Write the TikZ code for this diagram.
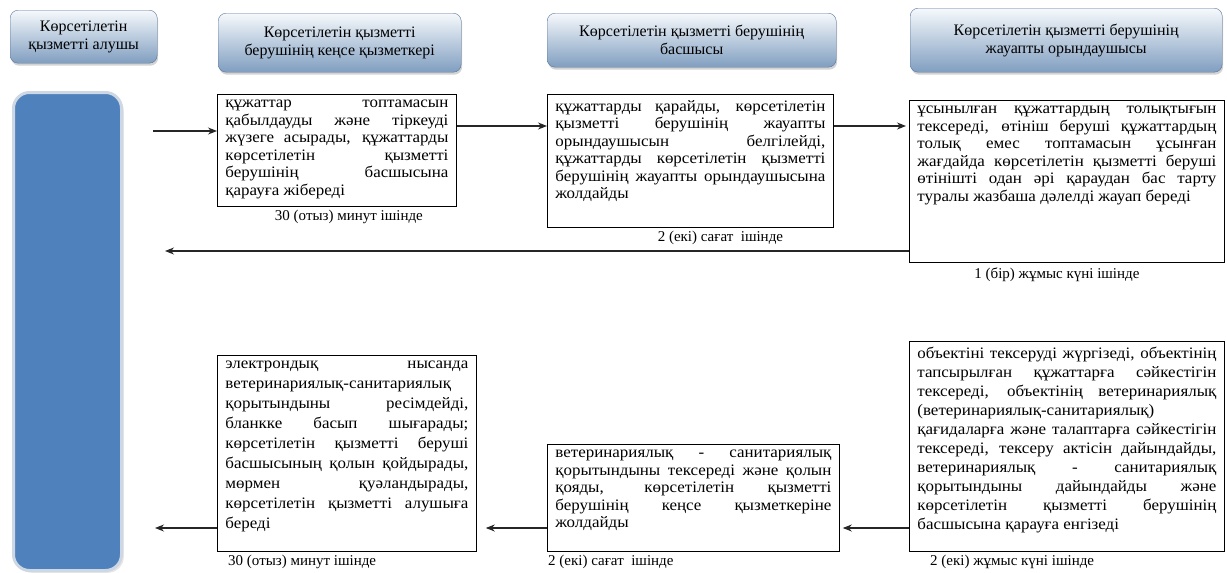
\documentclass[tikz,border=0pt]{standalone}
\usepackage{fontspec}
\setmainfont{Liberation Serif}
\newfontfamily\boxfont{Liberation Serif}[FakeStretch=1.06]
\usetikzlibrary{arrows.meta, positioning, shadows}
\definecolor{barblue}{RGB}{79,129,189}
\definecolor{barrim}{RGB}{206,216,229}
\definecolor{headtop}{RGB}{246,249,252}
\definecolor{headbot}{RGB}{128,158,192}
\definecolor{headline}{RGB}{88,118,156}
\newcommand{\cell}[3]{\parbox[c][#2][t]{#1}{#3}}

\begin{document}
\begin{tikzpicture}[x=1pt, y=-1pt, font=\fontsize{16}{18}\selectfont,
   hd/.style={draw=headline, rounded corners=8pt, top color=headtop, bottom color=headbot,
      anchor=north west, align=center, inner sep=1pt,
      drop shadow={shadow xshift=1pt, shadow yshift=-2.5pt, opacity=0.35}},
   bx/.style={draw, line width=0.8pt, anchor=north west, inner xsep=8pt, inner ysep=6pt,
      font=\boxfont\fontsize{16}{17.5}\selectfont},
   tm/.style={inner sep=0pt, font=\fontsize{15}{17}\selectfont},
   ar/.style={-{Stealth[length=9pt,width=7pt]}, line width=1.1pt, draw=black!85}]
\useasboundingbox (0,0) rectangle (1227,573);

\node[hd, minimum width=147, minimum height=53] (h1) at (10,10) {Көрсетілетін\\қызметті алушы};
\node[hd, minimum width=243, minimum height=59] (h2) at (218,13) {Көрсетілетін қызметті\\берушінің кеңсе қызметкері};
\node[hd, minimum width=289, minimum height=54] (h3) at (547,13) {Көрсетілетін қызметті берушінің\\басшысы};
\node[hd, minimum width=312, minimum height=64] (h4) at (910,8) {Көрсетілетін қызметті берушінің\\жауапты орындаушысы};

\node[draw=barrim, line width=3pt, fill=barblue, rounded corners=16pt, anchor=north west,
   minimum width=108, minimum height=478, drop shadow={opacity=0.2}] (client) at (12,91) {};

\node[bx] (b1) at (217,94) {\cell{223pt}{100pt}{құжаттар топтамасын\linebreak қабылдауды және тіркеуді\linebreak жүзеге асырады, құжаттарды\linebreak көрсетілетін қызметті\linebreak берушінің басшысына\linebreak қарауға жібереді}};
\node[bx] (b2) at (547,94) {\cell{270pt}{121pt}{құжаттарды қарайды, көрсетілетін\linebreak қызметті берушінің жауапты\linebreak орындаушысын белгілейді,\linebreak құжаттарды көрсетілетін қызметті\linebreak берушінің жауапты орындаушысына\linebreak жолдайды}};
\node[bx] (b3) at (909,100) {\cell{299pt}{150pt}{ұсынылған құжаттардың толықтығын\linebreak тексереді, өтініш беруші құжаттардың\linebreak толық емес топтамасын ұсынған\linebreak жағдайда көрсетілетін қызметті беруші\linebreak өтінішті одан әрі қараудан бас тарту\linebreak туралы жазбаша дәлелді жауап береді}};

\node[bx, font=\boxfont\fontsize{16}{20}\selectfont] (b4) at (217,355) {\cell{243pt}{184pt}{электрондық нысанда\linebreak ветеринариялық-санитариялық\linebreak қорытындыны ресімдейді,\linebreak бланкке басып шығарады;\linebreak көрсетілетін қызметті беруші\linebreak басшысының қолын қойдырады,\linebreak мөрмен қуәландырады,\linebreak көрсетілетін қызметті алушыға\linebreak береді}};
\node[bx] (b5) at (547,444) {\cell{276pt}{95pt}{ветеринариялық - санитариялық\linebreak қорытындыны тексереді және қолын\linebreak қояды, көрсетілетін қызметті\linebreak берушінің кеңсе қызметкеріне\linebreak жолдайды}};
\node[bx, font=\boxfont\fontsize{16}{19}\selectfont] (b6) at (909,341) {\cell{299pt}{198pt}{объектіні тексеруді жүргізеді, объектінің\linebreak тапсырылған құжаттарға сәйкестігін\linebreak тексереді, объектінің ветеринариялық\linebreak (ветеринариялық-санитариялық)\linebreak қағидаларға және талаптарға сәйкестігін\linebreak тексереді, тексеру актісін дайындайды,\linebreak ветеринариялық - санитариялық\linebreak қорытындыны дайындайды және\linebreak көрсетілетін қызметті берушінің\linebreak басшысына қарауға енгізеді}};

\node[tm, below=3pt of b1.south, xshift=12pt] (t1) {30 (отыз) минут ішінде};
\node[tm, below=3pt of b2.south, xshift=30pt] (t2) {2 (екі) сағат~ ішінде};
\node[tm, below=5pt of b3.south, xshift=-10pt] (t3) {1 (бір) жұмыс күні ішінде};
\node[tm, below right=3pt and 11pt of b4.south west] (t4) {30 (отыз) минут ішінде};
\node[tm, below right=3pt and 1pt of b5.south west] (t5) {2 (екі) сағат~ ішінде};
\node[tm, below right=3pt and 21pt of b6.south west] (t6) {2 (екі) жұмыс күні ішінде};

\coordinate (in1) at (153,131);
\coordinate (row1) at (0,126);
\coordinate (back1) at (165,251);
\coordinate (row2) at (0,528);
\coordinate (out2) at (155,528);

\draw[ar] (in1) -- (in1 -| b1.west);
\draw[ar] (b1.east |- row1) -- (b2.west |- row1);
\draw[ar] (b2.east |- row1) -- ([xshift=-3pt]b3.west |- row1);
\draw[ar] (back1 -| b3.west) -- (back1);
\draw[ar] (b6.west |- row2) -- ([xshift=3pt]b5.east |- row2);
\draw[ar] (b5.west |- row2) -- ([xshift=9pt]b4.east |- row2);
\draw[ar] (b4.west |- row2) -- (out2);
\end{tikzpicture}
\end{document}
